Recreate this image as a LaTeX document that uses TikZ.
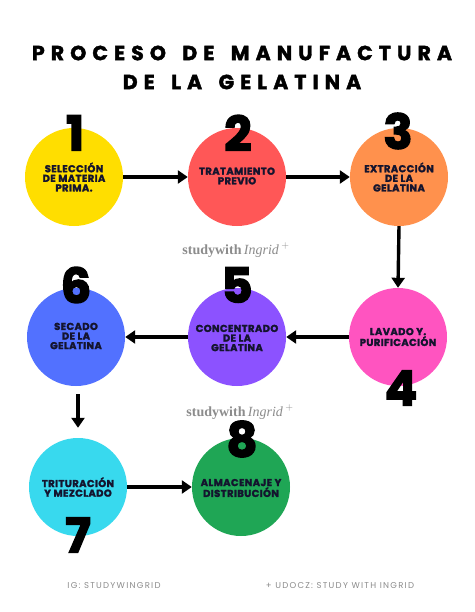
\documentclass[tikz,border=0pt]{standalone}
\usepackage{fontspec}
\setmainfont{Poppins}
\newfontfamily\titlefont[LetterSpace=30,BoldFeatures={FakeBold=2}]{Poppins}
\newfontfamily\stepfont[LetterSpace=4,BoldFeatures={FakeBold=2.2}]{Poppins}
\newfontfamily\numfont[BoldFeatures={FakeBold=3}]{Poppins}
\newfontfamily\wmfont{Liberation Serif}
\newfontfamily\footfont[LetterSpace=15]{Poppins}
\usetikzlibrary{arrows.meta}
\definecolor{cyel}{HTML}{FFDE00}
\definecolor{cred}{HTML}{FF5757}
\definecolor{cora}{HTML}{FF914D}
\definecolor{cpink}{HTML}{FF54C0}
\definecolor{cpur}{HTML}{8C52FF}
\definecolor{cblue}{HTML}{5271FF}
\definecolor{ccyan}{HTML}{38D9EE}
\definecolor{cgreen}{HTML}{1FA655}
\definecolor{ctext}{HTML}{14142E}
\definecolor{cwm}{HTML}{8C8C8C}
\newcommand{\wsp}{\ \hspace{6pt}}
\tikzset{
  circ/.style={circle, minimum size=98pt, inner sep=0pt},
  lbl/.style={align=center, text=ctext, font=\stepfont\bfseries\fontsize{10}{9.6}\selectfont},
  num/.style={font=\numfont\bfseries\fontsize{48}{48}\selectfont, text=black, inner sep=0pt},
  arr/.style={line width=3.4pt, -{Triangle[length=10pt,width=13pt]}},
  wm/.style={font=\wmfont\fontsize{14}{14}\selectfont, text=cwm},
  foot/.style={font=\footfont\fontsize{8.5}{9}\selectfont, text=cwm}
}
\begin{document}
\begin{tikzpicture}[x=1pt,y=-1pt]
\useasboundingbox[fill=white] (0,0) rectangle (474,612);
% title
\node[font=\titlefont\bfseries\fontsize{20.4}{21}\selectfont] (t1) at (242,53) {PROCESO\wsp DE\wsp MANUFACTURA};
\node[font=\titlefont\bfseries\fontsize{20.4}{21}\selectfont] (t2) at (242,82) {DE\wsp LA\wsp GELATINA};
% circles
\node[circ, fill=cyel] (c1) at (74,177) {};
\node[circ, fill=cred] (c2) at (237,177) {};
\node[circ, fill=cora] (c3) at (399,177) {};
\node[circ, fill=cpink] (c4) at (398,337) {};
\node[circ, fill=cpur] (c5) at (237,337) {};
\node[circ, fill=cblue] (c6) at (76,337) {};
\node[circ, fill=ccyan] (c7) at (78,487) {};
\node[circ, fill=cgreen] (c8) at (241,487) {};
% labels
\node[lbl] (l1) at (74,177) {SELECCIÓN\\DE MATERIA\\PRIMA.};
\node[lbl] (l2) at (237,176) {TRATAMIENTO\\PREVIO};
\node[lbl] (l3) at (399,177) {EXTRACCIÓN\\DE LA\\GELATINA};
\node[lbl] (l4) at (398,337) {LAVADO Y.\\PURIFICACIÓN};
\node[lbl] (l5) at (237,338) {CONCENTRADO\\DE LA\\GELATINA};
\node[lbl] (l6) at (76,336) {SECADO\\DE LA\\GELATINA};
\node[lbl] (l7) at (78,487) {TRITURACIÓN\\Y MEZCLADO};
\node[lbl] (l8) at (241,488) {ALMACENAJE Y\\DISTRIBUCIÓN};
% numbers
\node[num] (n1) at (75,133) {1};
\node[num] (n2) at (238,133) {2};
\node[num] (n3) at (398,131) {3};
\node[num] (n4) at (401,388) {4};
\node[num] (n5) at (237,285) {5};
\node[num] (n6) at (76,285) {6};
\node[num] (n7) at (78,535) {7};
\node[num] (n8) at (242,439) {8};
% arrows
\draw[arr] (c1.east) -- (c2.west);
\draw[arr] (c2.east) -- (c3.west);
\draw[arr] (c3.south) -- (c4.north);
\draw[arr] (c4.west) -- (c5.east);
\draw[arr] (c5.west) -- (c6.east);
\draw[arr] ([yshift=-8pt]c6.south -| c7.north) -- ([yshift=10pt]c7.north);
\draw[arr] (c7.east) -- (c8.west);
% watermarks
\node[wm] (w1) at (236,250) {\textbf{studywith}\,\textit{Ingrid}\,$^{+}$};
\node[wm] (w2) at (240,412) {\textbf{studywith}\,\textit{Ingrid}\,$^{+}$};
% footer
\node[foot] (f1) at (114,586) {IG: STUDYWINGRID};
\node[foot] (f2) at (340,586) {+ UDOCZ: STUDY WITH INGRID};
\end{tikzpicture}
\end{document}
